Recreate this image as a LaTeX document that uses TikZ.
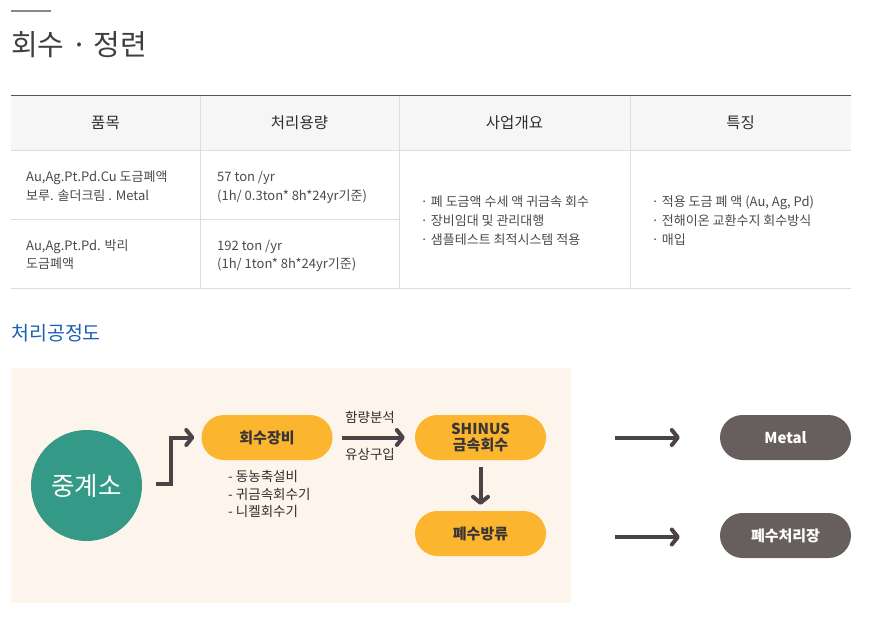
\documentclass[tikz,border=0pt]{standalone}
\usepackage{fontspec}
\setmainfont{Noto Sans CJK KR}
\usetikzlibrary{arrows.meta}
\definecolor{amber}{HTML}{FBB52F}
\definecolor{teal2}{HTML}{349A87}
\definecolor{brownpill}{HTML}{675F5E}
\definecolor{arrowc}{HTML}{4A4446}
\definecolor{beige}{HTML}{FDF4EC}
\definecolor{hdrbg}{HTML}{F6F6F6}
\definecolor{linegray}{HTML}{DDDDDD}
\definecolor{topline}{HTML}{555555}
\definecolor{bodytxt}{HTML}{4A4A4A}
\definecolor{hdrtxt}{HTML}{2E2E2E}
\definecolor{titletxt}{HTML}{3F3F3F}
\definecolor{titlebar}{HTML}{888888}
\definecolor{bluetxt}{HTML}{1A5FB4}
\definecolor{pilltxt}{HTML}{3A3535}
\begin{document}
\begin{tikzpicture}[x=1pt,y=-1pt,
  body/.style={anchor=base west, inner sep=0pt, text=bodytxt, font=\fontsize{13}{16}\selectfont},
  hdr/.style={anchor=base, inner sep=0pt, text=hdrtxt, font=\fontsize{15.5}{18}\selectfont},
  pill/.style={fill=amber, rounded corners=22.5pt, minimum width=131pt, minimum height=45pt, inner sep=0pt, text=pilltxt, align=center, font=\bfseries\fontsize{15}{17}\selectfont},
  gpill/.style={pill, fill=brownpill, text=white},
  flow/.style={line width=4pt, draw=arrowc, -{Straight Barb[length=6pt,width=15pt,line cap=round,line join=round]}},
  lbl/.style={inner sep=0pt, text=hdrtxt, font=\fontsize{13.5}{16}\selectfont},
  lst/.style={anchor=base west, inner sep=0pt, text=hdrtxt, font=\fontsize{13.5}{16}\selectfont}
]
\useasboundingbox (0,0) rectangle (890,623);
% title
\fill[titlebar] (11,10) rectangle (51,12.5);
\node[anchor=base west, inner sep=0pt, text=titletxt, font=\fontsize{29}{33}\selectfont] (title) at (11,55.5) {회수 · 정련};
% table
\fill[hdrbg] (11,96) rectangle (851,150);
\draw[linegray, line width=1pt] (11,150.5) -- (851,150.5);
\draw[linegray, line width=1pt] (11,219) -- (399,219);
\draw[linegray, line width=1pt] (11,288) -- (851,288);
\foreach \x in {200,399,630} \draw[linegray, line width=1pt] (\x,96) -- (\x,288);
\draw[topline, line width=1.2pt] (11,95.5) -- (851,95.5);
\node[hdr] (h1) at (105.5,128.6) {품목};
\node[hdr] (h2) at (299.5,128.6) {처리용량};
\node[hdr] (h3) at (514.5,128.6) {사업개요};
\node[hdr] (h4) at (740.5,128.6) {특징};
\node[body] (a1) at (26,181.7) {Au,Ag.Pt.Pd.Cu 도금폐액};
\node[body] (a2) at (26,200.7) {보루. 솔더크림 . Metal};
\node[body] (b1) at (217,181.7) {57 ton /yr};
\node[body] (b2) at (217,200.7) {(1h/ 0.3ton* 8h*24yr기준)};
\node[body] (a3) at (26,250.5) {Au,Ag.Pt.Pd. 박리};
\node[body] (a4) at (26,268.7) {도금폐액};
\node[body] (b3) at (217,250.5) {192 ton /yr};
\node[body] (b4) at (217,268.7) {(1h/ 1ton* 8h*24yr기준)};
\node[body] (c1) at (420.5,206.3) {· 폐 도금액 수세 액 귀금속 회수};
\node[body] (c2) at (420.5,225.3) {· 장비임대 및 관리대행};
\node[body] (c3) at (420.5,244) {· 샘플테스트 최적시스템 적용};
\node[body] (d1) at (651.5,206.3) {· 적용 도금 폐 액 (Au, Ag, Pd)};
\node[body] (d2) at (651.5,225.3) {· 전해이온 교환수지 회수방식};
\node[body] (d3) at (651.5,244) {· 매입};
% section title
\node[anchor=base west, inner sep=0pt, text=bluetxt, font=\fontsize{19.5}{23}\selectfont] (sec) at (11,340) {처리공정도};
% process background
\fill[beige] (11,368) rectangle (571,603);
\node[circle, fill=teal2, minimum size=111pt, inner sep=0pt, text=white, font=\fontsize{25.5}{29}\selectfont] (relay) at (86.5,485.5) {중계소};
\node[pill] (hoesu) at (267,437.5) {회수장비};
\node[pill] (shinus) at (480.5,437.5) {SHINUS\\[-1pt]금속회수};
\node[pill] (pyesu) at (480.5,533.5) {폐수방류};
\node[gpill] (metal) at (785.5,437.5) {Metal};
\node[gpill] (plant) at (785.5,535.5) {폐수처리장};
\node[lbl] (ana) at (370,417) {함량분석};
\node[lbl] (buy) at (370,454) {유상구입};
\node[lst] (l1) at (228,481.7) {- 동농축설비};
\node[lst] (l2) at (228,499.5) {- 귀금속회수기};
\node[lst] (l3) at (228,516.7) {- 니켈회수기};
\coordinate (m0) at (615,437.5);
\coordinate (p0) at (615,537);
% connectors
\draw[flow] ([xshift=14pt,yshift=1.5pt]relay.east) -- ++(15,0) |- ([xshift=-7pt]hoesu.west);
\draw[flow] ([xshift=9.5pt]hoesu.east) -- ([xshift=-10pt]shinus.west);
\draw[flow] ([yshift=-7pt]shinus.south) -- ([yshift=6pt]pyesu.north);
\draw[flow] (m0) -- ([xshift=-40pt]metal.west);
\draw[flow] (p0) -- ([xshift=-40pt]plant.west |- p0);
\end{tikzpicture}
\end{document}
